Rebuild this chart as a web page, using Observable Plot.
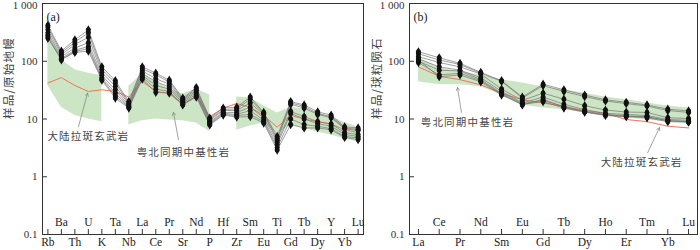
<!DOCTYPE html>
<html><head><meta charset="utf-8">
<script src="https://cdn.jsdelivr.net/npm/d3@7"></script>
<script src="https://cdn.jsdelivr.net/npm/@observablehq/plot@0.6"></script>
<style>
body{margin:0;background:#fff;}
#wrap{position:relative;width:700px;height:250px;overflow:hidden;background:#fff;}
#wrap svg{position:absolute;top:0;overflow:visible;}
g[font-family*="CJK"] text{letter-spacing:1.2px;}
</style></head><body><div id="wrap"></div>
<script>
// ---------- data ----------
const traceElements = ["Rb","Ba","Th","U","K","Ta","Nb","La","Ce","Pr","Sr","Nd","P","Hf","Zr","Sm","Eu","Ti","Gd","Tb","Dy","Y","Yb","Lu"];
const reeElements = ["La","Ce","Pr","Nd","Sm","Eu","Gd","Tb","Dy","Ho","Er","Tm","Yb","Lu"];
const yTicks = [0.1, 1, 10, 100, 1000];
const yTickLabels = ["0.1", "1", "10", "100", "1 000"];

// primitive-mantle normalised samples
const traceS1 = [420,150,235,350,80,46,20,80,62,47,23,35,10.4,15.5,16,24,13,5.0,20,17.5,13.3,11.7,7.3,7.0];
const traceS2 = [390,140,215,310,72,42,19,74,58,44,22,33,10,14.5,15,22,12.5,4.6,19,16.5,12.5,11,7.0,6.6];
const traceS3 = [350,130,195,260,64,37,18,68,50,40,21,31,9.5,14,14,19,12,4.3,18,15.5,12,10.5,6.8,6.3];
const traceS4 = [310,120,170,210,57,32,17,62,44,36,20,29,9,13,13,16,10.5,4.0,13.5,11,9,8.2,5.8,5.4];
const traceS5 = [285,112,155,180,52,28,16.5,57,38,33,19,27,8.6,12.5,12,14,9.5,3.6,12.5,10,8.3,7.5,5.4,5.0];
const traceS6 = [265,106,148,165,49,25,16,53,33,30,18,25,8.2,12,11.5,12,9,3.2,10,8,7.5,6.8,5.0,4.7];
const traceS7 = [250,108,142,150,47,23,15.5,49,29,28,17.5,24,7.9,11.7,10.8,11,8.5,2.9,8,7,7.0,6.5,4.8,4.4];
const traceSamples = [traceS1, traceS2, traceS3, traceS4, traceS5, traceS6, traceS7];
const traceCT = [42,52,38,30,32,30,24,45,30,28,18,25,11,15.5,18.5,16,11.5,7.2,11.6,10,9,8.2,6.5,5.8];
const traceFieldHi = [270,106,71,62,56,null,37,60,45,33,27,33,26,null,24,23,17,12.7,16,15,12.7,10.8,8.8,7.2];
const traceFieldLo = [38,16,11.5,10,9,null,7.9,9.3,10,9.6,9.3,8.5,6,null,6.4,7.6,8.5,5.5,7.9,7,5.9,5.3,4.5,4];

// chondrite normalised samples
const reeS1 = [146,115,92,64,46,24,40,32,26,21.5,19.5,17.5,14.8,13.8];
const reeS2 = [135,105,88,62,45,23,38,30,24.5,20.5,18.5,16.8,14,13];
const reeS3 = [120,95,80,60,33,21,28,22,17,14.3,13.2,13,10.5,10.2];
const reeS4 = [110,80,70,52,30,19,24,18,14.5,12.5,12,11.5,9.8,9.5];
const reeS5 = [100,70,68,48,28,18.5,21,16.5,13.5,12,11.3,11,9.3,9];
const reeS6 = [95,58,62,46,27,17.5,22,16,13.3,11.8,11.2,10.8,9.4,9];
const reeS7 = [105,54,58,44,26,18,20,15.5,13.2,11.5,11,10.5,9,8.8];
const reeSamples = [reeS1, reeS2, reeS3, reeS4, reeS5, reeS6, reeS7];
const reeCT = [80,55,48,39,28,21.5,19,16.5,14,12.5,9.8,9,7.5,7];
const reeFieldHi = [115,77,66,58,48,42,36,32,28,24,21.5,19,16.8,15.5];
const reeFieldLo = [44,39,39,36,26,17.5,15.5,14.4,12.7,11.2,10.4,9.6,8.9,8.5];

// annotations (element index, value)
const traceNotes = [
  {label:"大陆拉斑玄武岩", tx:3.0, ty:5.0, ax1:2.27, ay1:7.4, ax2:2.94, ay2:28},
  {label:"粤北同期中基性岩", tx:10.05, ty:2.63, ax1:9.68, ay1:4.4, ax2:9.31, ay2:13}
];
const reeNotes = [
  {label:"粤北同期中基性岩", tx:2.36, ty:8.7, ax1:2.07, ay1:13, ax2:1.88, ay2:35},
  {label:"大陆拉斑玄武岩", tx:10.74, ty:1.76, ax1:11.03, ay1:2.6, ax2:11.6, ay2:7.1}
];

// ---------- drawing ----------
const H = 250, MT = 3, MB = 16;
const FONT = "'Liberation Serif', 'Times New Roman', 'Noto Sans CJK SC', serif";
const CJK = "'Noto Sans CJK SC', sans-serif";
const GREEN = "#cce5c4", RED = "#f2735b";

function panel({elements, samples, ref, fieldHi, fieldLo, notes, panelLabel, yLabel, width, marginLeft, marginRight, pad, labelDx}) {
  const n = elements.length;
  const innerW = width - marginLeft - marginRight;
  const innerH = H - MT - MB;
  const idx = d3.range(n);
  const pts = samples.flatMap((row, s) => row.map((v, i) => ({s, i, v})));
  const refRows = ref.map((v, i) => ({i, v}));
  const field = [];
  let seg = 0, prev = false;
  fieldHi.forEach((h, i) => {
    if (h == null) { if (prev) seg++; prev = false; return; }
    field.push({i, hi: h, lo: fieldLo[i], seg}); prev = true;
  });
  const lowTicks = yTicks.slice(0, -1), topTick = yTicks.slice(-1);
  return Plot.plot({
    width, height: H, marginLeft, marginRight, marginTop: MT, marginBottom: MB,
    style: {fontFamily: FONT, fontSize: "11px", color: "#222", background: "transparent", overflow: "visible"},
    x: {type: "linear", domain: [-pad, n - 1 + pad], axis: null},
    y: {type: "log", domain: [0.1, 1000], axis: null},
    marks: [
      Plot.areaY(field, {x: "i", y1: "lo", y2: "hi", z: "seg", fill: GREEN}),
      Plot.line(refRows, {x: "i", y: "v", stroke: RED, strokeWidth: 1}),
      Plot.line(pts, {x: "i", y: "v", z: "s", stroke: "#707070", strokeWidth: 0.75, strokeOpacity: 0.9}),
      Plot.dot(pts, {x: "i", y: "v", symbol: "square", r: 2.2, fill: "#111"}),
      Plot.dot(pts, {x: "i", y: "v", symbol: "diamond", r: 2.8, fill: "#111"}),
      Plot.arrow(notes, {x1: "ax1", y1: "ay1", x2: "ax2", y2: "ay2", stroke: "#8a8a8a", strokeWidth: 0.8, headLength: 6}),
      Plot.text(notes, {x: "tx", y: "ty", text: "label", fontFamily: CJK, fontSize: 10.5, fill: "#444"}),
      Plot.frame({stroke: "#333", strokeWidth: 1}),
      Plot.tickX(idx, {x: d => d, insetTop: innerH - 5, stroke: "#333"}),
      Plot.tickY(yTicks, {y: d => d, insetRight: innerW - 5, stroke: "#333"}),
      Plot.text(lowTicks, {y: d => d, text: d => yTickLabels[yTicks.indexOf(d)], frameAnchor: "left", dx: -5, textAnchor: "end", fontSize: 11, fill: "#333"}),
      Plot.text(topTick, {y: d => d, text: d => yTickLabels[yTicks.indexOf(d)], frameAnchor: "left", dx: -5, dy: -2, lineAnchor: "top", textAnchor: "end", fontSize: 11, fill: "#333"}),
      Plot.text(idx.filter(i => i % 2 === 1), {x: d => d, text: d => elements[d], frameAnchor: "bottom", dy: -9, fontSize: 11.5, fill: "#222"}),
      Plot.text(idx.filter(i => i % 2 === 0), {x: d => d, text: d => elements[d], frameAnchor: "bottom", dy: 11, fontSize: 11.5, fill: "#222"}),
      Plot.text([panelLabel], {frameAnchor: "top-left", dx: 4, dy: 9, textAnchor: "start", fontSize: 12, fill: "#222"}),
      Plot.text([yLabel], {frameAnchor: "left", rotate: -90, dx: labelDx, fontFamily: CJK, fontSize: 11.5, fill: "#444"})
    ]
  });
}

const wrap = document.getElementById("wrap");
const left = panel({elements: traceElements, samples: traceSamples, ref: traceCT, fieldHi: traceFieldHi, fieldLo: traceFieldLo,
  notes: traceNotes, panelLabel: "(a)", yLabel: "样品/原始地幔", width: 368, marginLeft: 42, marginRight: 5, pad: 0.4, labelDx: -33});
left.style.left = "0px";
const right = panel({elements: reeElements, samples: reeSamples, ref: reeCT, fieldHi: reeFieldHi, fieldLo: reeFieldLo,
  notes: reeNotes, panelLabel: "(b)", yLabel: "样品/球粒陨石", width: 332, marginLeft: 41, marginRight: 3, pad: 0.43, labelDx: -32});
right.style.left = "368px";
wrap.appendChild(left);
wrap.appendChild(right);
</script></body></html>
